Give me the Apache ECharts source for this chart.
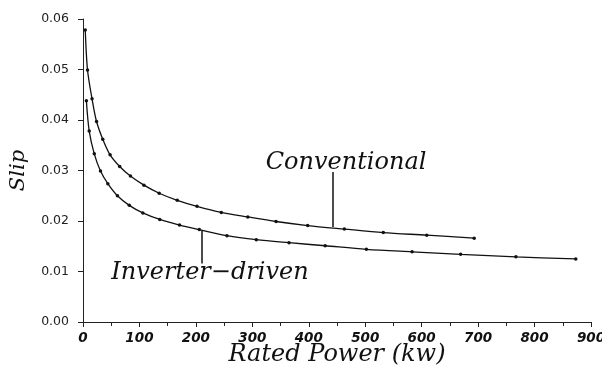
<!DOCTYPE html>
<html>
<head>
	<meta charset="utf-8" />
	<title>Slip vs Rated Power</title>
	<script src="https://cdn.jsdelivr.net/npm/echarts@6/dist/echarts.min.js"></script>
	<style>
		body { margin: 0; background: #fff; }
		#chartmain { width: 602px; height: 368px; }
	</style>
</head>
<body>
	<div id="chartmain"></div>
</body>
<script type="text/javascript">
	// rated power (kW) and slip
	var convPower = [4, 8, 16, 24, 35, 48, 65, 84, 108, 135, 167, 202, 245, 292, 342, 398, 463, 532, 609, 693];
	var convSlip = [0.0578, 0.0499, 0.0442, 0.0397, 0.0362, 0.0331, 0.0308, 0.0289, 0.0271, 0.0255, 0.0241, 0.0229, 0.0217, 0.0208, 0.0199, 0.0191, 0.0184, 0.0177, 0.0172, 0.0166];
	var invPower = [6, 11, 20, 31, 44, 61, 82, 106, 136, 171, 206, 255, 307, 365, 429, 502, 583, 669, 767, 873];
	var invSlip = [0.0438, 0.0378, 0.0333, 0.0299, 0.0274, 0.0250, 0.0231, 0.0216, 0.0203, 0.0192, 0.0183, 0.0171, 0.0163, 0.0157, 0.0151, 0.0144, 0.0139, 0.0134, 0.0129, 0.0125];

	var serif = 'DejaVu Serif';

	function pairs(xs, ys) {
		return xs.map(function (x, i) { return [x, ys[i]]; });
	}

	var myChart = echarts.init(document.getElementById('chartmain'));
	var option = {
		animation: false,
		backgroundColor: '#fff',
		grid: { left: 83, right: 11, top: 19, bottom: 46, outerBoundsMode: 'none', containLabel: false },
		xAxis: {
			type: 'value',
			min: 0, max: 900, interval: 100,
			name: 'Rated Power (kw)',
			nameLocation: 'middle',
			nameGap: 21,
			nameMoveOverlap: false,
			nameTextStyle: { fontFamily: serif, fontStyle: 'italic', fontSize: 24, color: '#111' },
			axisLine: { lineStyle: { color: '#222', width: 1 } },
			axisTick: { show: true, length: 5, lineStyle: { color: '#222' } },
			minorTick: { show: true, splitNumber: 2, length: 4, lineStyle: { color: '#222' } },
			axisLabel: { fontFamily: 'DejaVu Sans', fontStyle: 'italic', fontWeight: 'bold', fontSize: 13.5, color: '#111', margin: 9 },
			splitLine: { show: false }
		},
		yAxis: {
			type: 'value',
			min: 0, max: 0.06, interval: 0.01,
			name: 'Slip',
			nameLocation: 'middle',
			nameGap: 54,
			nameRotate: 90,
			nameTextStyle: { fontFamily: serif, fontStyle: 'italic', fontSize: 21, color: '#111' },
			axisLine: { show: true, lineStyle: { color: '#222', width: 1 } },
			axisTick: { show: true, length: 5, lineStyle: { color: '#222' } },
			axisLabel: {
				fontFamily: 'DejaVu Sans', fontSize: 12.5, color: '#222', margin: 14,
				formatter: function (v) { return v.toFixed(2); }
			},
			splitLine: { show: false }
		},
		series: [
			{
				name: 'Conventional',
				type: 'line',
				data: pairs(convPower, convSlip),
				smooth: 0.3,
				symbol: 'circle',
				symbolSize: 3.5,
				itemStyle: { color: '#111' },
				lineStyle: { color: '#111', width: 1.3 },
				markLine: {
					silent: true,
					symbol: 'none',
					lineStyle: { color: '#111', width: 1.5, type: 'solid' },
					label: { show: false },
					data: [[{ coord: [443, 0.0297] }, { coord: [443, 0.0188] }]]
				},
				markPoint: {
					silent: true,
					symbol: 'circle',
					symbolSize: 0,
					label: { show: true, formatter: 'Conventional', fontFamily: serif, fontStyle: 'italic', fontSize: 24, color: '#111' },
					data: [{ coord: [466, 0.0316] }]
				}
			},
			{
				name: 'Inverter-driven',
				type: 'line',
				data: pairs(invPower, invSlip),
				smooth: 0.3,
				symbol: 'circle',
				symbolSize: 3.5,
				itemStyle: { color: '#111' },
				lineStyle: { color: '#111', width: 1.3 },
				markLine: {
					silent: true,
					symbol: 'none',
					lineStyle: { color: '#111', width: 1.5, type: 'solid' },
					label: { show: false },
					data: [[{ coord: [211, 0.0180] }, { coord: [211, 0.0116] }]]
				},
				markPoint: {
					silent: true,
					symbol: 'circle',
					symbolSize: 0,
					label: { show: true, formatter: 'Inverter\u2212driven', fontFamily: serif, fontStyle: 'italic', fontSize: 24, color: '#111' },
					data: [{ coord: [225, 0.0098] }]
				}
			}
		]
	};
	myChart.setOption(option);
</script>
</html>
